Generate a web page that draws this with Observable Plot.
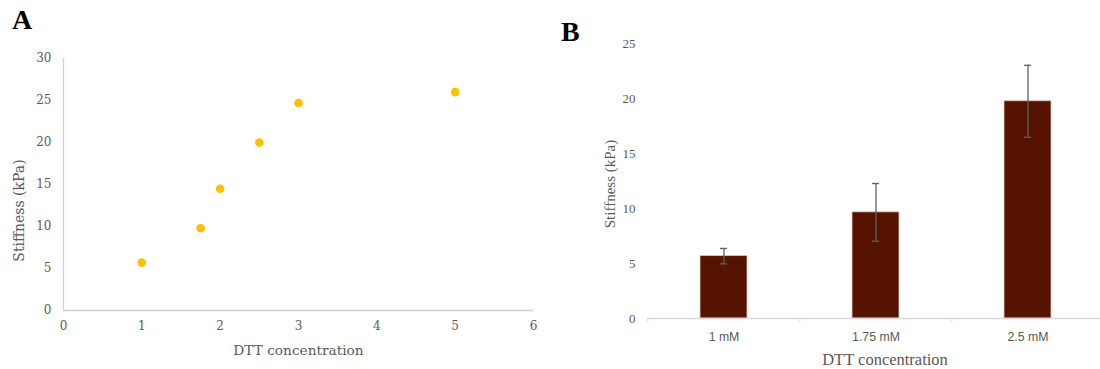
<!DOCTYPE html>
<html><head><meta charset="utf-8">
<script src="https://cdn.jsdelivr.net/npm/d3@7"></script>
<script src="https://cdn.jsdelivr.net/npm/@observablehq/plot@0.6"></script>
<style>
body{margin:0;background:#fff;overflow:hidden}
#wrap{position:relative;width:1100px;height:369px;overflow:hidden;background:#fff}
.panel{position:absolute;top:0}
.panel svg{max-width:none !important}
.lab{position:absolute;font-family:"Liberation Serif",serif;font-weight:bold;font-size:28px;color:#000;line-height:1}
</style></head>
<body>
<div id="wrap">
  <div id="pa" class="panel" style="left:0;width:550px"></div>
  <div id="pb" class="panel" style="left:550px;width:560px"></div>
  <div class="lab" style="left:12px;top:6px">A</div>
  <div class="lab" style="left:561px;top:18px">B</div>
</div>
<script>
// Panel A data
const concA = [1, 1.75, 2, 2.5, 3, 5];
const stiffA = [5.7, 9.8, 14.5, 20, 24.7, 26];
const xTicksA = [0, 1, 2, 3, 4, 5, 6];
const yTicksA = [0, 5, 10, 15, 20, 25, 30];
// Panel B data
const catsB = ["1 mM", "1.75 mM", "2.5 mM"];
const stiffB = [5.67, 9.65, 19.75];
const errB = [0.7, 2.62, 3.27];
const yTicksB = [0, 5, 10, 15, 20, 25];
const xTitle = "DTT concentration";
const yTitle = "Stiffness (kPa)";

const dataA = concA.map((c, i) => ({c, s: stiffA[i]}));
const dataB = catsB.map((k, i) => ({k, v: stiffB[i], e: errB[i]}));

const gray = "#595959";
const serifA = "DejaVu Serif";

const plotA = Plot.plot({
  width: 550, height: 369,
  marginLeft: 63, marginRight: 17, marginTop: 58, marginBottom: 59,
  style: {fontFamily: serifA, fontSize: "12px", color: gray, background: "transparent"},
  x: {domain: [0, 6]},
  y: {domain: [0, 30]},
  marks: [
    Plot.axisY({ticks: yTicksA, tickFormat: d => String(d), tickSize: 0, tickPadding: 12, label: null, fill: gray}),
    Plot.axisX({ticks: xTicksA, tickFormat: d => String(d), tickSize: 0, tickPadding: 11, label: null, fill: gray}),
    Plot.ruleX([0], {stroke: "#d0d0d0", strokeWidth: 1.3}),
    Plot.ruleY([0], {stroke: "#d0d0d0", strokeWidth: 1.3}),
    Plot.dot(dataA, {x: "c", y: "s", r: 4.3, fill: "#FFC000", stroke: "none"}),
    Plot.text([xTitle], {frameAnchor: "bottom", dy: 40, lineAnchor: "middle", textAnchor: "middle", fill: gray, fontSize: 13.7, fontFamily: serifA}),
    Plot.text([yTitle], {frameAnchor: "left", dx: -44, dy: 26, rotate: -90, lineAnchor: "middle", textAnchor: "middle", fill: gray, fontSize: 14, fontFamily: serifA})
  ]
});
document.getElementById("pa").appendChild(plotA);

const wB = 560, mLB = 97, mRB = 6;
const plotWB = wB - mLB - mRB;
const padIn = 0.69;
const bandW = plotWB / catsB.length * (1 - padIn);
const step = plotWB / catsB.length;
const capW = 7.3;

const plotB = Plot.plot({
  width: wB, height: 369,
  marginLeft: mLB, marginRight: mRB, marginTop: 43, marginBottom: 51,
  style: {fontFamily: "Liberation Serif", fontSize: "13px", color: gray, background: "transparent", overflow: "visible"},
  x: {domain: catsB, paddingInner: padIn, paddingOuter: padIn / 2},
  y: {domain: [0, 25]},
  marks: [
    Plot.axisY({ticks: yTicksB, tickSize: 0, tickPadding: 12, label: null, fill: gray, fontSize: 13}),
    Plot.barY(dataB, {x: "k", y: "v", fill: "#561400", stroke: "#e2c6bd", strokeWidth: 0.8}),
    Plot.ruleY([0], {stroke: "#d9d9d9", strokeWidth: 1.3}),
    Plot.axisX({tickSize: 4, tickFormat: () => "", stroke: "#d9d9d9", dx: -step / 2, label: null}),
    Plot.axisX({tickSize: 0, tickPadding: 14, label: null, fill: gray, fontFamily: "Liberation Sans", fontSize: 12.3}),
    Plot.ruleX(dataB, {x: "k", y1: d => d.v - d.e, y2: d => d.v + d.e, stroke: "#606060", strokeWidth: 1.3}),
    Plot.tickY(dataB, {x: "k", y: d => d.v - d.e, stroke: "#606060", strokeWidth: 1.3, insetLeft: (bandW - capW) / 2, insetRight: (bandW - capW) / 2}),
    Plot.tickY(dataB, {x: "k", y: d => d.v + d.e, stroke: "#606060", strokeWidth: 1.3, insetLeft: (bandW - capW) / 2, insetRight: (bandW - capW) / 2}),
    Plot.text([xTitle], {frameAnchor: "bottom", dy: 41, dx: 9, lineAnchor: "middle", textAnchor: "middle", fill: gray, fontSize: 16.5, fontFamily: "Liberation Serif"}),
    Plot.text([yTitle], {frameAnchor: "left", dx: -37, dy: 3, rotate: -90, lineAnchor: "middle", textAnchor: "middle", fill: gray, fontSize: 15, fontFamily: "Liberation Serif"})
  ]
});
document.getElementById("pb").appendChild(plotB);
</script>
</body></html>
